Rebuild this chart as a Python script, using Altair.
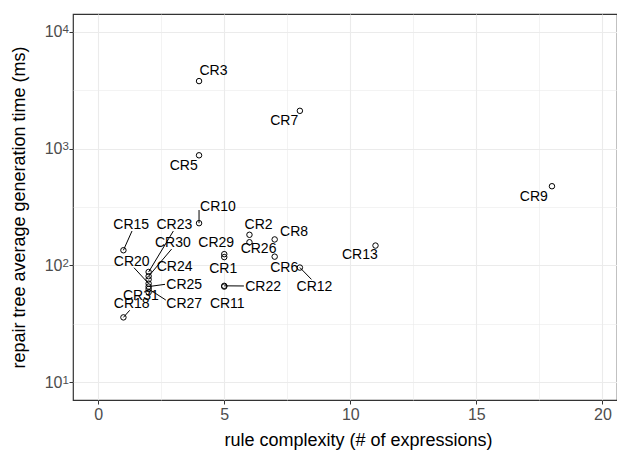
import altair as alt
import pandas as pd

# ---- data ----
names = ["CR1", "CR2", "CR3", "CR5", "CR6", "CR7", "CR8", "CR9", "CR10", "CR11",
         "CR12", "CR13", "CR15", "CR18", "CR20", "CR22", "CR23", "CR24", "CR25",
         "CR26", "CR27", "CR29", "CR30", "CR31"]
complexity = [5, 6, 4, 4, 7, 8, 7, 18, 4, 5,
              8, 11, 1, 1, 2, 5, 2, 2, 2,
              6, 2, 5, 2, 2]
gen_time = [118, 183, 3770, 875, 119, 2100, 167, 476, 230, 66,
            96, 148, 135, 36, 70, 67, 88, 76, 66,
            158, 63, 125, 81, 59]

# repelled label positions (data units)
label_x = [4.96, 6.36, 4.57, 3.39, 7.38, 7.38, 7.77, 17.28, 4.75, 5.12,
           8.58, 10.38, 1.31, 1.33, 1.33, 6.54, 3.02, 3.03, 3.41,
           6.36, 3.41, 4.68, 2.96, 1.69]
label_y = [94, 221, 4560, 714, 95.7, 1730, 194, 386, 318, 47.2,
           65.9, 122, 221, 47.2, 107, 65.9, 221, 97.7, 68.1,
           137, 47.2, 157, 157, 55]

# leader segment ends (None = no segment drawn)
seg_x = [None, None, None, None, None, None, None, None, 4.0, None,
         8.46, None, 1.34, 1.25, 1.42, 5.78, 2.98, None, 2.65,
         None, 2.68, None, 2.91, None]
seg_y = [None, None, None, None, None, None, None, None, 298, None,
         76, None, 197, 41.4, 95.7, 66.8, 197, None, 69,
         None, 50.7, None, 138, None]

x_ticks = [0, 2.5, 5, 7.5, 10, 12.5, 15, 17.5, 20]
y_ticks = [10, 31.6228, 100, 316.228, 1000, 3162.28, 10000]
y_exponents = [1, 2, 3, 4]

df = pd.DataFrame({
    "name": names, "cx": complexity, "t": gen_time,
    "lx": label_x, "ly": label_y, "sx": seg_x, "sy": seg_y,
})
exp_df = pd.DataFrame({"e": y_exponents})

W, H = 544, 386
FONT = "Liberation Sans"

xscale = alt.Scale(domain=[-1, 20.58], nice=False, zero=False)
yscale = alt.Scale(type="log", domain=[10 ** 0.85, 10 ** 4.15], nice=False)

x_axis = alt.Axis(
    values=x_ticks,
    title="rule complexity (# of expressions)",
    labelExpr="datum.value % 5 === 0 ? datum.label : ''",
    tickOpacity={"condition": {"test": "datum.value % 5 !== 0", "value": 0}, "value": 1},
    gridWidth={"condition": {"test": "datum.value % 5 !== 0", "value": 0.6}, "value": 1.1},
    domain=False, tickSize=4, tickColor="#333333", tickWidth=1,
    labelColor="#4D4D4D", labelFontSize=16, labelPadding=2, labelFont=FONT,
    titleFont=FONT, titleFontSize=18, titleFontWeight="normal", titleColor="#000000",
    titleX=W / 2 + 13, titleY=45, titleBaseline="alphabetic", titleAlign="center",
    gridColor="#EBEBEB",
)
minor_test = "abs(log(datum.value)/LN10 - round(log(datum.value)/LN10)) > 0.01"
y_axis = alt.Axis(
    values=y_ticks,
    title="repair tree average generation time (ms)",
    labelExpr=("abs(log(datum.value)/LN10 - round(log(datum.value)/LN10)) < 0.01 ? "
               "'10' : ''"),
    tickOpacity={"condition": {"test": minor_test, "value": 0}, "value": 1},
    gridWidth={"condition": {"test": minor_test, "value": 0.6}, "value": 1.1},
    domain=False, tickSize=4, tickColor="#333333", tickWidth=1,
    labelColor="#4D4D4D", labelFontSize=16, labelPadding=7, labelFont=FONT,
    labelBaseline="middle",
    titleFont=FONT, titleFontSize=18, titleFontWeight="normal", titleColor="#000000",
    titleX=-54, titleY=H / 2, titleAngle=270, titleBaseline="middle", titleAlign="center",
    gridColor="#EBEBEB",
)

base = alt.Chart(df)

points = base.mark_point(shape="circle", filled=False, size=30, color="black",
                         strokeWidth=1, opacity=1).encode(
    x=alt.X("cx:Q", scale=xscale, axis=x_axis),
    y=alt.Y("t:Q", scale=yscale, axis=y_axis),
)

segments = base.transform_filter("isValid(datum.sx)").mark_rule(
    color="black", strokeWidth=1).encode(
    x=alt.X("cx:Q", scale=xscale, axis=x_axis),
    y=alt.Y("t:Q", scale=yscale, axis=y_axis),
    x2="sx:Q",
    y2="sy:Q",
)

labels = base.mark_text(font=FONT, fontSize=14, color="black",
                        align="center", baseline="middle").encode(
    x=alt.X("lx:Q", scale=xscale, axis=x_axis),
    y=alt.Y("ly:Q", scale=yscale, axis=y_axis),
    text="name:N",
)

# exponent part of the "10^n" tick labels
exponents = alt.Chart(exp_df).transform_calculate(
    v="pow(10, datum.e)", s="'' + datum.e"
).mark_text(font=FONT, fontSize=11.5, color="#4D4D4D", align="left",
            baseline="alphabetic", dy=1.5, clip=False).encode(
    x=alt.value(-10.5),
    y=alt.Y("v:Q", scale=yscale, axis=y_axis),
    text="s:N",
)

chart = alt.layer(segments, points, labels, exponents).properties(
    width=W, height=H,
    autosize=alt.AutoSizeParams(type="none"),
    padding={"left": 73, "top": 14, "right": 0, "bottom": 53},
    background="white",
).configure_view(stroke="#333333", strokeWidth=1.2)

chart.save("out.html", embed_options={"renderer": "svg", "actions": False})
